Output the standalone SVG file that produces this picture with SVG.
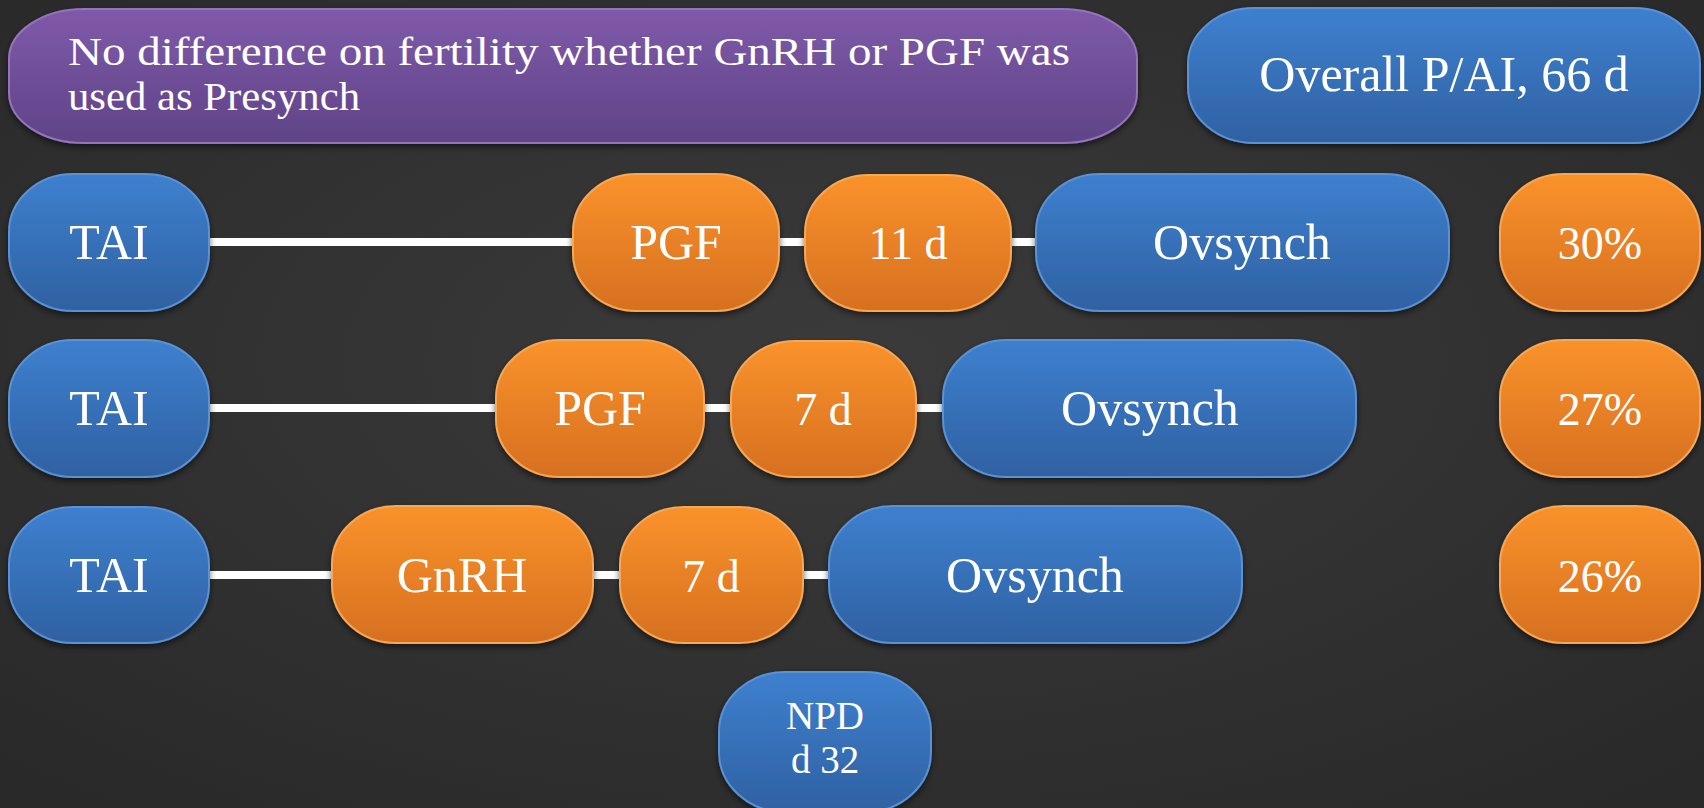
<svg xmlns="http://www.w3.org/2000/svg" width="1704" height="808" viewBox="0 0 1704 808">
<defs>
<radialGradient id="bg" cx="50%" cy="45%" r="75%">
<stop offset="0" stop-color="#3b3b3b"/>
<stop offset="1" stop-color="#282828"/>
</radialGradient>
<linearGradient id="gBlue" x1="0" y1="0" x2="0" y2="1">
<stop offset="0" stop-color="#3e80cf"/>
<stop offset="1" stop-color="#2f61a2"/>
</linearGradient>
<linearGradient id="gOrange" x1="0" y1="0" x2="0" y2="1">
<stop offset="0" stop-color="#fa922c"/>
<stop offset="1" stop-color="#d6701f"/>
</linearGradient>
<linearGradient id="gPurple" x1="0" y1="0" x2="0" y2="1">
<stop offset="0" stop-color="#7f5aa9"/>
<stop offset="1" stop-color="#5f4387"/>
</linearGradient>
<filter id="sh" x="-10%" y="-10%" width="120%" height="130%">
<feDropShadow dx="0" dy="3" stdDeviation="3" flood-color="#000" flood-opacity="0.55"/>
</filter>
</defs>
<style>
.blue{fill:url(#gBlue);stroke:#5a92d4;stroke-width:2;filter:url(#sh)}
.orange{fill:url(#gOrange);stroke:#f6a856;stroke-width:2;filter:url(#sh)}
.purple{fill:url(#gPurple);stroke:#9474bb;stroke-width:2;filter:url(#sh)}
.t{font-family:"Liberation Serif","DejaVu Serif",serif;fill:#ffffff;text-anchor:middle;font-size:50px}
.p{font-size:46px}
.conn{stroke:#ffffff;stroke-width:8;fill:none}
</style>
<rect width="1704" height="808" fill="url(#bg)"/>

<g id="connectors">
<line class="conn" x1="205" y1="242" x2="578" y2="242"/>
<line class="conn" x1="775" y1="242" x2="808" y2="242"/>
<line class="conn" x1="1008" y1="242" x2="1040" y2="242"/>
<line class="conn" x1="205" y1="408" x2="500" y2="408"/>
<line class="conn" x1="700" y1="408" x2="735" y2="408"/>
<line class="conn" x1="912" y1="408" x2="947" y2="408"/>
<line class="conn" x1="205" y1="575" x2="336" y2="575"/>
<line class="conn" x1="588" y1="575" x2="624" y2="575"/>
<line class="conn" x1="800" y1="575" x2="833" y2="575"/>
</g>

<g id="summary">
<rect class="purple" x="9" y="9" width="1128" height="134" rx="75" ry="50"/>
<text class="t" x="68" y="65" style="text-anchor:start;font-size:40px" textLength="1002" lengthAdjust="spacingAndGlyphs">No difference on fertility whether GnRH or PGF was</text>
<text class="t" x="68" y="110" style="text-anchor:start;font-size:40px" textLength="292" lengthAdjust="spacingAndGlyphs">used as Presynch</text>
</g>

<g id="overall">
<rect class="blue" x="1188" y="8" width="512" height="135" rx="66" ry="56"/>
<text class="t" x="1444" y="91">Overall P/AI, 66 d</text>
</g>

<g id="r1-tai"><rect class="blue" x="9" y="174" width="200" height="137" rx="64" ry="58"/><text class="t" x="109" y="259">TAI</text></g>
<g id="r1-pgf"><rect class="orange" x="573" y="174" width="206" height="137" rx="64" ry="58"/><text class="t" x="676" y="259">PGF</text></g>
<g id="r1-11d"><rect class="orange" x="805" y="175" width="206" height="136" rx="64" ry="58"/><text class="t p" x="908" y="259">11 d</text></g>
<g id="r1-ovsynch"><rect class="blue" x="1036" y="174" width="413" height="137" rx="64" ry="58"/><text class="t" x="1242" y="259">Ovsynch</text></g>
<g id="r1-pct"><rect class="orange" x="1500" y="174" width="200" height="137" rx="64" ry="58"/><text class="t p" x="1600" y="259">30%</text></g>

<g id="r2-tai"><rect class="blue" x="9" y="340" width="200" height="137" rx="64" ry="58"/><text class="t" x="109" y="425">TAI</text></g>
<g id="r2-pgf"><rect class="orange" x="496" y="340" width="208" height="137" rx="64" ry="58"/><text class="t" x="600" y="425">PGF</text></g>
<g id="r2-7d"><rect class="orange" x="731" y="341" width="185" height="136" rx="64" ry="58"/><text class="t p" x="823" y="425">7 d</text></g>
<g id="r2-ovsynch"><rect class="blue" x="943" y="340" width="413" height="137" rx="64" ry="58"/><text class="t" x="1150" y="425">Ovsynch</text></g>
<g id="r2-pct"><rect class="orange" x="1500" y="340" width="200" height="137" rx="64" ry="58"/><text class="t p" x="1600" y="425">27%</text></g>

<g id="r3-tai"><rect class="blue" x="9" y="507" width="200" height="136" rx="64" ry="58"/><text class="t" x="109" y="592">TAI</text></g>
<g id="r3-gnrh"><rect class="orange" x="332" y="506" width="261" height="137" rx="64" ry="58"/><text class="t" x="462" y="592">GnRH</text></g>
<g id="r3-7d"><rect class="orange" x="620" y="507" width="183" height="136" rx="64" ry="58"/><text class="t p" x="711" y="592">7 d</text></g>
<g id="r3-ovsynch"><rect class="blue" x="829" y="506" width="413" height="137" rx="64" ry="58"/><text class="t" x="1035" y="592">Ovsynch</text></g>
<g id="r3-pct"><rect class="orange" x="1500" y="506" width="200" height="137" rx="64" ry="58"/><text class="t p" x="1600" y="592">26%</text></g>

<g id="npd"><rect class="blue" x="719" y="672" width="212" height="140" rx="66" ry="60"/><text class="t" x="825" y="729" style="font-size:39px">NPD</text><text class="t" x="825" y="773" style="font-size:39px">d 32</text></g>
</svg>
